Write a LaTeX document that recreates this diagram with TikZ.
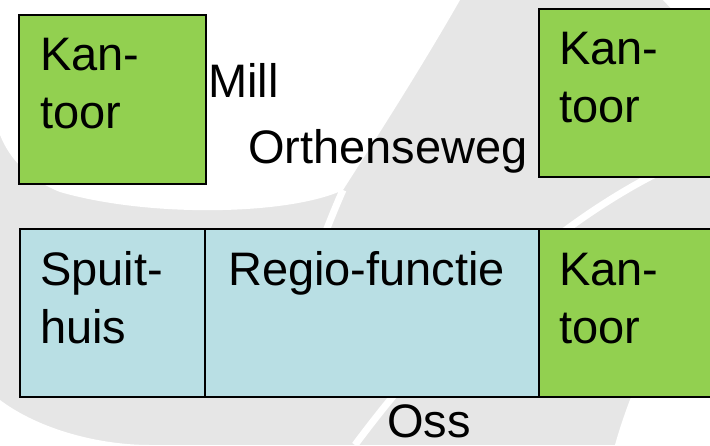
\documentclass[tikz,border=0pt]{standalone}
\usepackage{fontspec}
\setmainfont{Liberation Sans}
\usetikzlibrary{positioning}

\definecolor{kantoorgroen}{RGB}{146,208,80}
\definecolor{regioblauw}{RGB}{185,223,228}
\definecolor{logogrijs}{RGB}{230,230,230}

\begin{document}
\begin{tikzpicture}[
  x=1pt, y=-1pt,
  vak/.style={draw, line width=1.8pt, inner sep=0pt, anchor=north west},
  groen/.style={vak, fill=kantoorgroen},
  blauw/.style={vak, fill=regioblauw},
  lbl/.style={font=\fontsize{47}{58}\selectfont, align=left, anchor=base west, inner sep=0pt},
  gat/.style={white, line width=7pt}
]
\useasboundingbox (0,0) rectangle (710,445);

% logo in the background
\fill[logogrijs] (0,0) rectangle (710,445);
\fill[white] (0,0) -- (460,0) .. controls (420,70) and (375,140) .. (343,190)
  .. controls (290,215) and (150,218) .. (60,192)
  .. controls (30,180) and (10,160) .. (0,135) -- cycle;
\fill[white] (663,0) -- (710,0) -- (710,50) -- cycle;
\fill[white] (615,445) .. controls (630,390) and (670,300) .. (710,240) -- (710,445) -- cycle;
\fill[white] (0,400) .. controls (40,430) and (100,445) .. (150,445) -- (0,445) -- cycle;
\draw[gat] (343,190) .. controls (325,230) and (300,300) .. (280,360);
\draw[gat] (710,150) .. controls (600,190) and (470,290) .. (355,445);

% Mill, top row
\node[groen, minimum width=187pt, minimum height=169pt] (kantoor1) at (18,14) {};
\node[groen, minimum width=174pt, minimum height=168pt] (kantoor2) at (538,8) {};

% Oss, bottom row
\node[blauw, minimum width=185pt, minimum height=168pt] (spuithuis) at (19,228) {};
\node[blauw, minimum width=334pt, minimum height=168pt] (regio) at (204,228) {};
\node[groen, minimum width=174pt, minimum height=168pt] (kantoor3) at (538,228) {};

% texts (base = last line)
\node[lbl] (kan1) at (40,128) {Kan-\\toor};
\node[lbl] (kan2) at (559,122) {Kan-\\toor};
\node[lbl] (mill) at (208,97) {Mill};
\node[lbl] (orthen) at (248,163) {Orthenseweg};
\node[lbl] (spuit) at (40,343) {Spuit-\\huis};
\node[lbl] (regiotxt) at (228,285) {Regio-functie};
\node[lbl] (kan3) at (559,343) {Kan-\\toor};
\node[lbl] (oss) at (387,437) {Oss};

\end{tikzpicture}
\end{document}
